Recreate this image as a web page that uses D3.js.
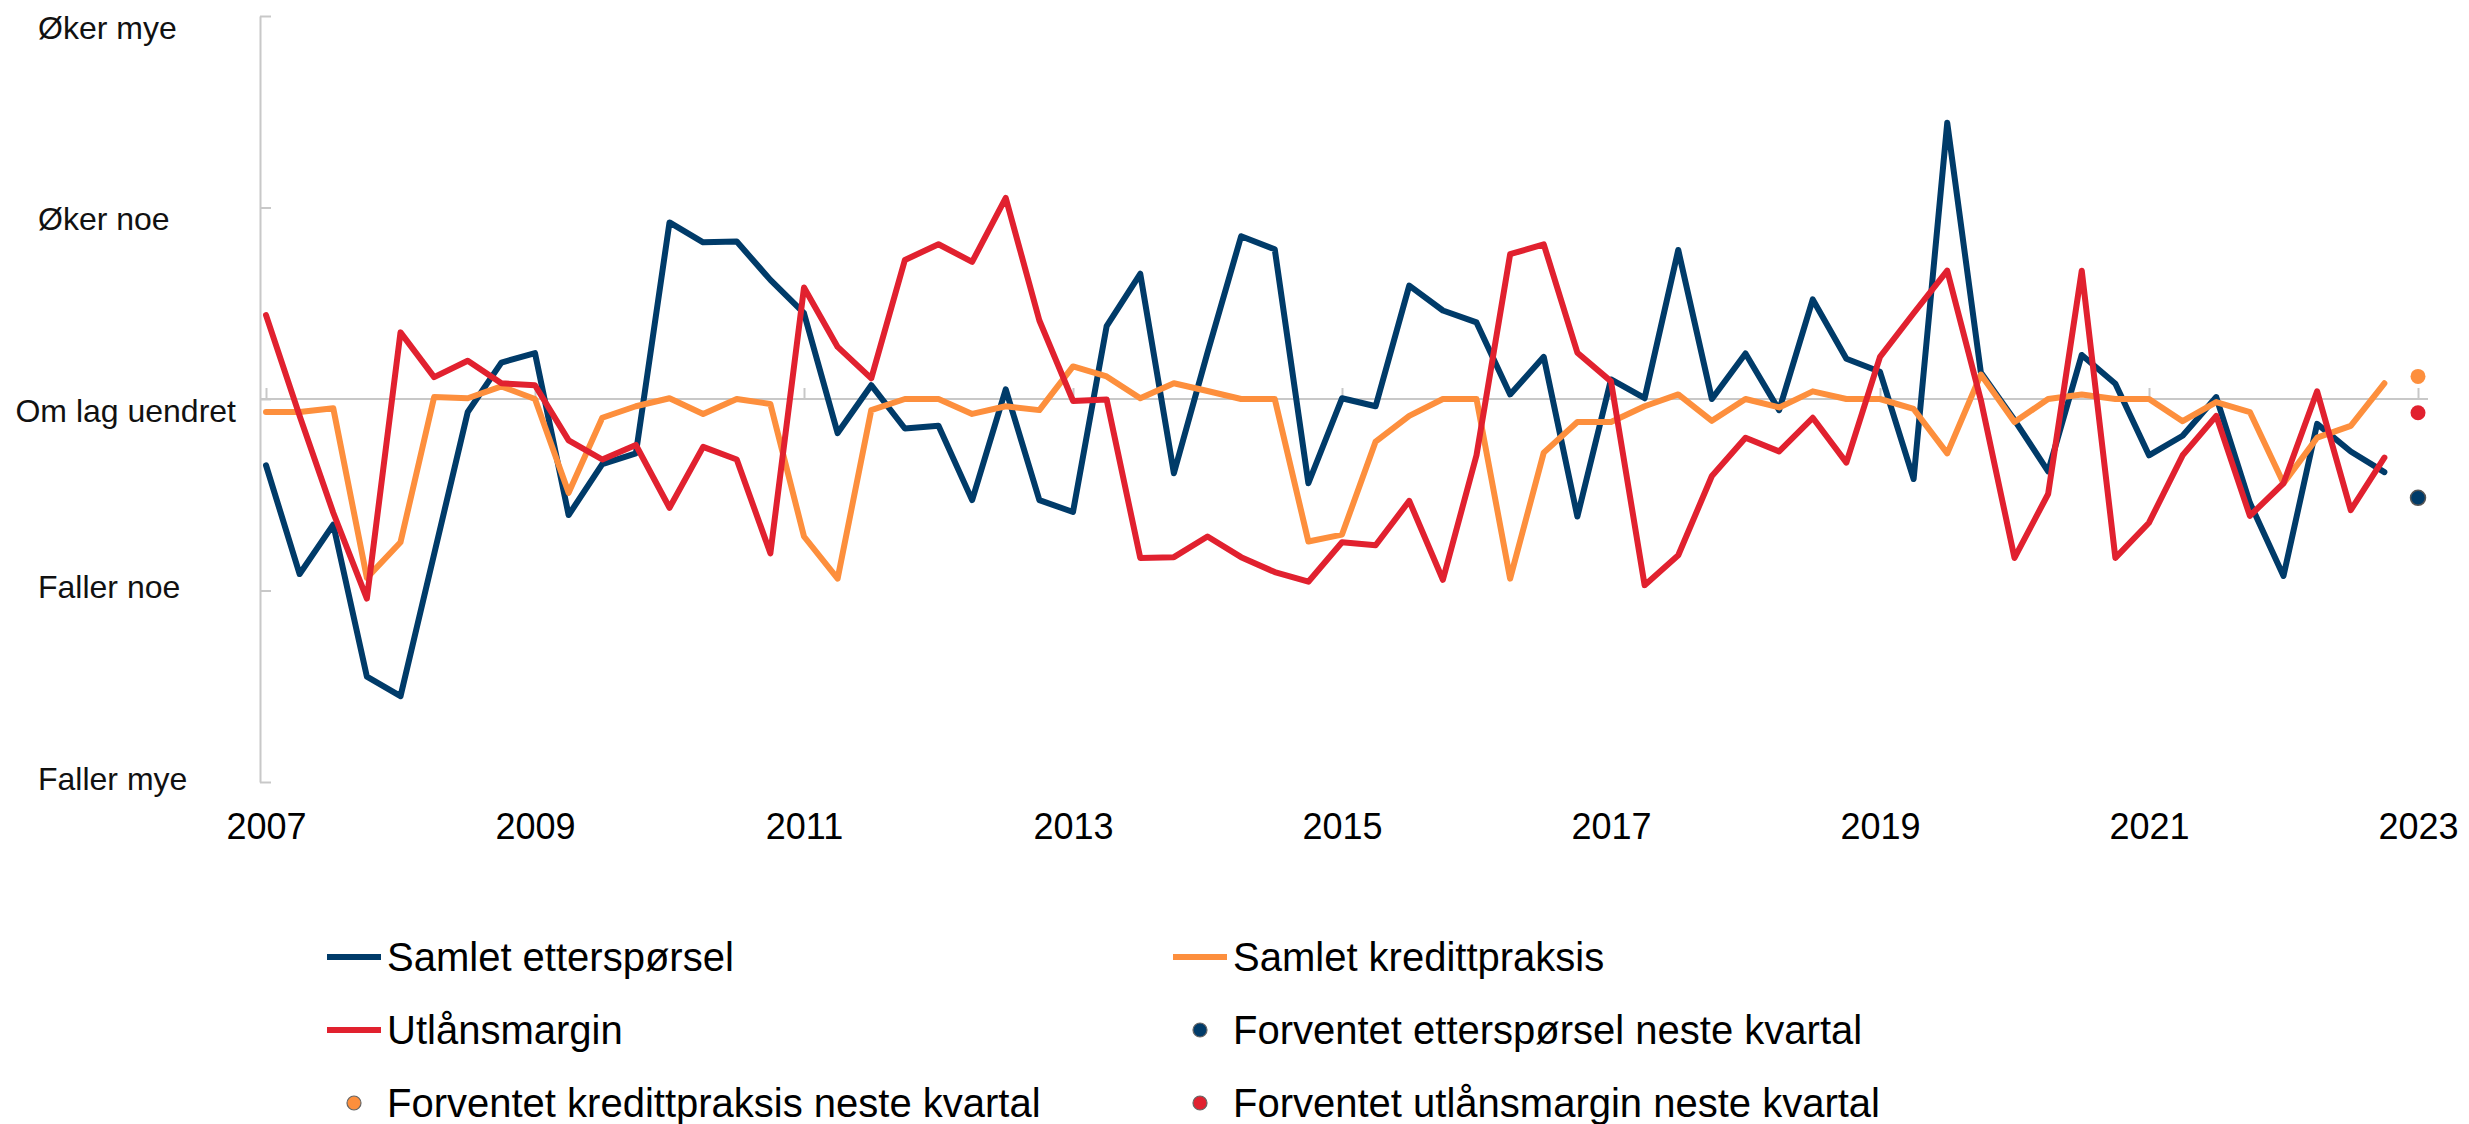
<!DOCTYPE html>
<html>
<head>
<meta charset="utf-8">
<script src="https://cdn.jsdelivr.net/npm/d3@7"></script>
<style>
  body { margin: 0; background: #fff; }
  svg { display: block; font-family: "Liberation Sans", Arial, sans-serif; }
</style>
</head>
<body>
<div id="chart"></div>
<script>
// Netto prosent, kvartalsvis fra 2007K1 til 2022K4
var firstYear = 2007;

var demand = [
  -17.3, -45.7, -32.8, -72.5, -77.6, -40.5, -3.4, 9.5, 12.0, -30.3, -17.0, -14.2, 46.1, 40.9,
  41.1, 31.1, 22.4, -8.9, 3.6, -7.7, -7.0, -26.4, 2.5, -26.4, -29.5, 19.0, 32.7,
  -19.4, 12.1, 42.5, 39.1, -22.0, 0.2, -1.9, 29.6, 23.1, 20.0, 1.2, 11.0,
  -30.7, 5.1, 0.2, 38.9, 0, 11.9, -2.9, 26.0, 10.5, 7.1, -20.9, 72.1, 6.9,
  -5.5, -18.9, 11.5, 4.0, -14.7, -9.6, 0.5, -27.1, -46.2, -6.5, -13.7, -19.1
];

var creditPractice = [
  -3.4, -3.4, -2.4, -46.7, -37.4, 0.5, 0.2, 3.3, 0, -24.5, -4.9, -1.9, 0.2, -3.9,
  0, -1.3, -35.9, -46.9, -2.9, 0, 0, -3.9, -1.9, -2.9, 8.5, 5.9, 0.2,
  4.1, 2.1, 0, 0, -37.2, -35.4, -11.1, -4.4, 0, 0, -46.9, -14.0,
  -6.0, -6.0, -1.9, 1.2, -5.7, 0, -2.2, 2.0, 0, 0, -2.6, -14.2, 6.4,
  -6.0, 0, 1.2, 0, 0, -5.8, -0.8, -3.4, -22.0, -10.1, -7.0, 4.1
];

var lendingMargin = [
  21.9, -4.4, -29.7, -52.1, 17.4, 5.7, 10.0, 4.1, 3.6, -10.8, -15.8, -12.0, -28.4, -12.5,
  -15.8, -40.3, 29.1, 13.6, 5.4, 36.3, 40.4, 35.8, 52.5, 20.5, -0.5, -0.1, -41.5,
  -41.3, -35.9, -41.3, -45.2, -47.7, -37.4, -38.2, -26.6, -47.2, -14.7, 37.8, 40.4,
  12.1, 4.6, -48.6, -40.8, -20.1, -10.1, -13.7, -4.9, -16.6, 11.0, 22.4, 33.5, -0.3,
  -41.5, -24.8, 33.5, -41.5, -32.3, -14.7, -4.4, -30.5, -22.0, 2.0, -29.0, -15.3
];

// Forventning for neste kvartal (2023K1)
var forecastTime = 2023;
var forecastDemand = -25.8;
var forecastCredit = 5.9;
var forecastMargin = -3.6;

var yTicks = [100, 50, 0, -50, -100];
var yTickLabels = ["Øker mye", "Øker noe", "Om lag uendret", "Faller noe", "Faller mye"];
var xTicks = [2007, 2009, 2011, 2013, 2015, 2017, 2019, 2021, 2023];

var legendNames = [
  "Samlet etterspørsel", "Samlet kredittpraksis",
  "Utlånsmargin", "Forventet etterspørsel neste kvartal",
  "Forventet kredittpraksis neste kvartal", "Forventet utlånsmargin neste kvartal"
];

var navy = "#003b69", orange = "#fd8f3d", red = "#e1212f", grey = "#c8c8c8";

var width = 2469, height = 1124;

var svg = d3.select("#chart").append("svg")
  .attr("width", width)
  .attr("height", height);

var x = d3.scaleLinear().domain([2007, 2023]).range([266, 2418]);
var y = d3.scaleLinear().domain([-100, 100]).range([782, 16]);

// zero line
svg.append("line")
  .attr("x1", 260).attr("x2", x(2023) + 10)
  .attr("y1", y(0)).attr("y2", y(0))
  .attr("stroke", grey).attr("stroke-width", 2);

// x axis sitting on the zero line, ticks pointing up
var xAxis = svg.append("g")
  .attr("transform", "translate(0," + y(0) + ")")
  .call(d3.axisBottom(x).tickValues(xTicks).tickFormat(d3.format("d"))
    .tickSizeInner(-11).tickSizeOuter(0));
xAxis.select(".domain").remove();
xAxis.selectAll(".tick line").attr("stroke", grey).attr("stroke-width", 2);
xAxis.selectAll(".tick text")
  .attr("y", 0)
  .attr("dy", 839 - y(0))
  .attr("font-size", 36)
  .attr("fill", "#000")
  .attr("font-family", "Liberation Sans, Arial, sans-serif");

// y axis
var yAxis = svg.append("g")
  .attr("transform", "translate(260,0)")
  .call(d3.axisLeft(y).tickValues(yTicks)
    .tickFormat(function(d, i) { return yTickLabels[i]; })
    .tickSizeInner(-11).tickSizeOuter(0));
yAxis.select(".domain").attr("stroke", grey).attr("stroke-width", 2);
yAxis.selectAll(".tick line").attr("stroke", grey).attr("stroke-width", 2);
yAxis.selectAll(".tick text")
  .attr("font-size", 32)
  .attr("fill", "#111")
  .attr("font-family", "Liberation Sans, Arial, sans-serif")
  .attr("text-anchor", "start")
  .attr("dy", function(d, i) { return i < 3 ? 22 : 7; })
  .attr("x", function() { return Math.min(-222, -24 - this.getComputedTextLength()); });

// lines
var line = d3.line()
  .x(function(d, i) { return x(firstYear + i / 4); })
  .y(function(d) { return y(d); });

[[demand, navy], [creditPractice, orange], [lendingMargin, red]].forEach(function(s) {
  svg.append("path")
    .datum(s[0])
    .attr("fill", "none")
    .attr("stroke", s[1])
    .attr("stroke-width", 6)
    .attr("stroke-linejoin", "round")
    .attr("stroke-linecap", "round")
    .attr("d", line);
});

// forecast dots
[[forecastCredit, orange, "none"], [forecastMargin, red, "none"], [forecastDemand, navy, "#555"]].forEach(function(f) {
  svg.append("circle")
    .attr("cx", x(forecastTime))
    .attr("cy", y(f[0]))
    .attr("r", 7.5)
    .attr("fill", f[1])
    .attr("stroke", f[2])
    .attr("stroke-width", 1.5);
});

// legend
var legendColors = [navy, orange, red, navy, orange, red];
var legend = svg.append("g");
legendNames.forEach(function(name, i) {
  var col = i % 2, row = Math.floor(i / 2);
  var lx = 327 + col * 846, ly = 957 + row * 73;
  var g = legend.append("g").attr("transform", "translate(" + lx + "," + ly + ")");
  if (i < 3) {
    g.append("line")
      .attr("x1", 0).attr("x2", 54).attr("y1", 0).attr("y2", 0)
      .attr("stroke", legendColors[i]).attr("stroke-width", 6);
  } else {
    g.append("circle")
      .attr("cx", 27).attr("cy", 0).attr("r", 7)
      .attr("fill", legendColors[i])
      .attr("stroke", "#666").attr("stroke-width", 1.2);
  }
  g.append("text")
    .attr("x", 60)
    .attr("y", 14)
    .attr("font-size", 40)
    .attr("fill", "#000")
    .text(name);
});
</script>
</body>
</html>
